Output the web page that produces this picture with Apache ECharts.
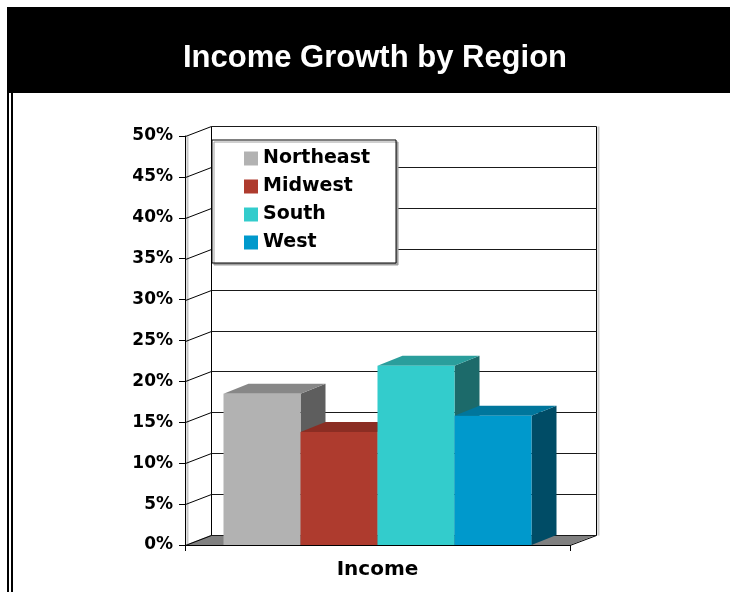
<!DOCTYPE html>
<html>
<head>
<meta charset="utf-8">
<script src="https://cdn.jsdelivr.net/npm/echarts@6/dist/echarts.min.js"></script>
<style>
  html, body { margin: 0; padding: 0; background: #ffffff; }
  #chart { width: 730px; height: 592px; }
</style>
</head>
<body>
<div id="chart"></div>
<script>
// Chart data
const categories = ['Income'];
const regions = ['Northeast', 'Midwest', 'South', 'West'];
const growth = [18.5, 13.8, 21.9, 15.8];
const yTicks = [0, 5, 10, 15, 20, 25, 30, 35, 40, 45, 50];

// Shading for the three visible faces of each box
const faceColors = {
  Northeast: { front: '#b2b2b2', top: '#878787', side: '#5e5e5e' },
  Midwest:   { front: '#ae3b2e', top: '#8b2d23', side: '#5c1e17' },
  South:     { front: '#33cccc', top: '#2a9e9c', side: '#1c6a6a' },
  West:      { front: '#0099cc', top: '#00769c', side: '#004c66' }
};

const WALL_DX = 26, WALL_DY = -10;   // depth of the back wall
const BAR_DX = 25, BAR_DY = -10;     // depth of each box
const FONT = 'DejaVu Sans';
const TITLE_FONT = 'Liberation Sans';

const px = v => Math.round(v) + 0.5;

// Back wall, floor and the gridlines that run across the wall
function renderWall(params, api) {
  const v = api.value(1);
  const p = api.coord([api.value(0), v]);
  const band = api.size([1, 0])[0];
  const xl = p[0] - band / 2;
  const xr = p[0] + band / 2;
  const y = p[1];
  const children = [];
  const lineStyle = { stroke: '#000', lineWidth: 1, fill: null };

  if (params.dataIndex === 0) {
    const yMax = Math.max.apply(null, yTicks);
    const top = api.coord([api.value(0), yMax])[1];
    // floor
    children.push({
      type: 'polygon',
      shape: { points: [[xl, y], [xr, y], [xr + WALL_DX, y + WALL_DY], [xl + WALL_DX, y + WALL_DY]] },
      style: { fill: '#808080', stroke: null }
    });
    children.push({
      type: 'polyline',
      shape: { points: [[xr, px(y)], [px(xr + WALL_DX), px(y + WALL_DY)]] },
      style: lineStyle
    });
    // wall edges
    children.push({
      type: 'line',
      shape: { x1: px(xl + WALL_DX), y1: px(top + WALL_DY), x2: px(xl + WALL_DX), y2: px(y + WALL_DY) },
      style: lineStyle
    });
    children.push({
      type: 'line',
      shape: { x1: px(xr + WALL_DX), y1: px(top + WALL_DY), x2: px(xr + WALL_DX), y2: px(y + WALL_DY) },
      style: lineStyle
    });
    // light edge shading beside the side walls
    children.push({
      type: 'line',
      shape: { x1: px(xr + WALL_DX) + 2, y1: px(top + WALL_DY), x2: px(xr + WALL_DX) + 2, y2: px(y + WALL_DY) },
      style: { stroke: '#c8c8c8', lineWidth: 2 }
    });
    children.push({
      type: 'line',
      shape: { x1: px(xl) + 2, y1: px(top), x2: px(xl) + 2, y2: px(y) },
      style: { stroke: '#c8c8c8', lineWidth: 2 }
    });
  }
  // gridline across the back wall
  children.push({
    type: 'line',
    shape: { x1: px(xl + WALL_DX), y1: px(y + WALL_DY), x2: px(xr + WALL_DX), y2: px(y + WALL_DY) },
    style: { stroke: '#1a1a1a', lineWidth: 1 }
  });
  // connector from the front axis to the back wall
  children.push({
    type: 'line',
    shape: { x1: px(xl), y1: px(y), x2: px(xl + WALL_DX), y2: px(y + WALL_DY) },
    style: lineStyle
  });
  return { type: 'group', children: children };
}

// One 3D box per region
function makeBarRenderer(k, colors) {
  return function (params, api) {
    const cat = api.value(0);
    const base = api.coord([cat, 0]);
    const topP = api.coord([cat, api.value(1)]);
    const band = api.size([1, 0])[0];
    const barW = band * 0.2;
    const x0 = base[0] - band / 2 + band * 0.1 + k * barW;
    const x1 = x0 + barW;
    const yt = topP[1];
    const yb = base[1];
    return {
      type: 'group',
      children: [
        {
          type: 'polygon',
          shape: { points: [[x1, yt], [x1 + BAR_DX, yt + BAR_DY], [x1 + BAR_DX, yb + BAR_DY], [x1, yb]] },
          style: { fill: colors.side }
        },
        {
          type: 'polygon',
          shape: { points: [[x0, yt], [x1, yt], [x1 + BAR_DX, yt + BAR_DY], [x0 + BAR_DX, yt + BAR_DY]] },
          style: { fill: colors.top }
        },
        {
          type: 'rect',
          shape: { x: x0, y: yt, width: barW, height: yb - yt },
          style: { fill: colors.front }
        }
      ]
    };
  };
}

const chart = echarts.init(document.getElementById('chart'), null, { renderer: 'canvas' });

const barSeries = regions.map((name, k) => ({
  type: 'custom',
  name: name,
  coordinateSystem: 'cartesian2d',
  data: [[categories[0], growth[k]]],
  itemStyle: { color: faceColors[name].front },
  renderItem: makeBarRenderer(k, faceColors[name]),
  z: 3
}));

chart.setOption({
  animation: false,
  backgroundColor: '#ffffff',
  title: {
    text: 'Income Growth by Region',
    left: 370,
    textAlign: 'center',
    top: 38,
    textStyle: { color: '#ffffff', fontFamily: TITLE_FONT, fontWeight: 'bold', fontSize: 31 }
  },
  graphic: [
    { type: 'rect', shape: { x: 7, y: 7, width: 723, height: 86 }, style: { fill: '#000' }, z: -10 },
    { type: 'rect', shape: { x: 7, y: 93, width: 2, height: 499 }, style: { fill: '#000' }, z: -10 },
    { type: 'rect', shape: { x: 11, y: 93, width: 2, height: 499 }, style: { fill: '#000' }, z: -10 }
  ],
  legend: {
    data: regions,
    orient: 'vertical',
    left: 212,
    top: 140,
    padding: [9, 26, 11, 32],
    itemWidth: 14,
    itemHeight: 14,
    itemGap: 9,
    icon: 'rect',
    backgroundColor: '#ffffff',
    borderColor: '#000',
    borderWidth: 1,
    borderRadius: 0,
    shadowColor: '#a0a0a0',
    shadowBlur: 0,
    shadowOffsetX: 2,
    shadowOffsetY: 2,
    selectedMode: false,
    textStyle: { color: '#000', fontFamily: FONT, fontWeight: 'bold', fontSize: 19 }
  },
  grid: {
    left: 185,
    right: 160,
    top: 136,
    bottom: 47,
    containLabel: false,
    outerBoundsMode: 'none'
  },
  xAxis: {
    type: 'category',
    data: categories,
    z: 5,
    axisLine: { show: true, lineStyle: { color: '#000', width: 1 } },
    axisTick: { show: true, length: 6, alignWithLabel: false, lineStyle: { color: '#000' } },
    axisLabel: { color: '#000', fontFamily: FONT, fontWeight: 'bold', fontSize: 20, margin: 15 },
    splitLine: { show: false }
  },
  yAxis: {
    type: 'value',
    min: 0,
    max: 50,
    interval: 5,
    z: 5,
    axisLine: { show: true, lineStyle: { color: '#000', width: 1 } },
    axisTick: { show: true, length: 6, lineStyle: { color: '#000' } },
    axisLabel: { formatter: '{value}%', color: '#000', fontFamily: FONT, fontWeight: 'bold', fontSize: 17, margin: 12 },
    splitLine: { show: false }
  },
  series: [
    {
      type: 'custom',
      name: 'wall',
      coordinateSystem: 'cartesian2d',
      data: yTicks.map(v => [categories[0], v]),
      renderItem: renderWall,
      silent: true,
      z: 1
    }
  ].concat(barSeries)
});
</script>
</body>
</html>
